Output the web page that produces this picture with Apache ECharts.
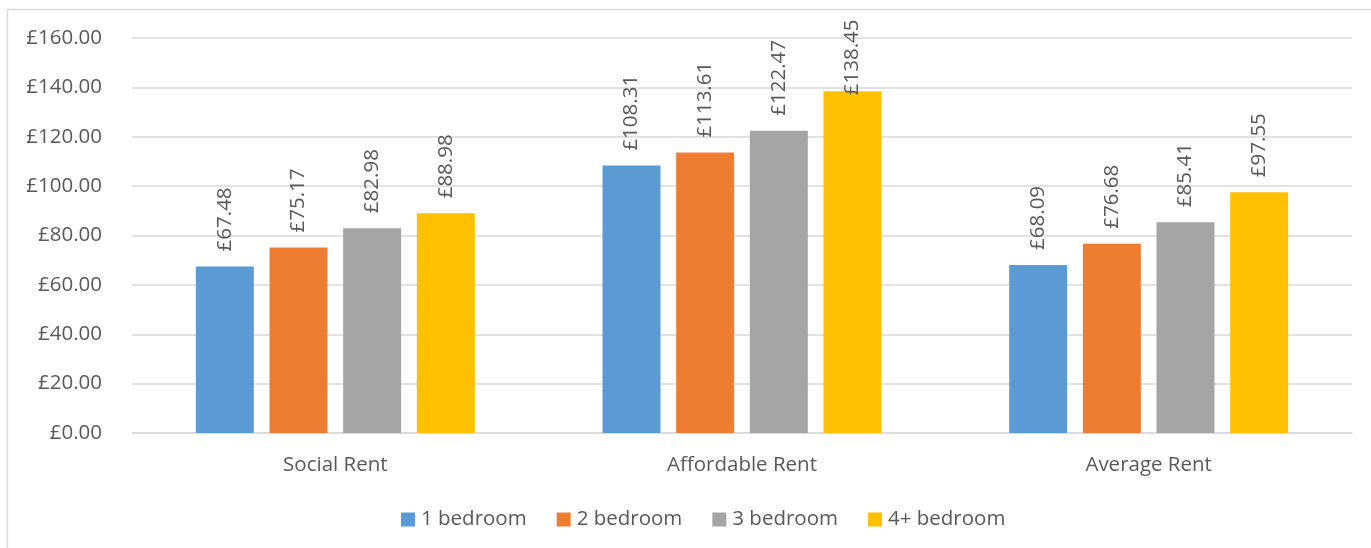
<!DOCTYPE html>
<html>
<head>
<meta charset="utf-8">
<script src="https://cdn.jsdelivr.net/npm/echarts@6/dist/echarts.min.js"></script>
<style>
html,body{margin:0;padding:0;background:#fff;}
#chart{width:1371px;height:548px;}
</style>
</head>
<body>
<div id="chart"></div>
<script>
const categories = ['Social Rent', 'Affordable Rent', 'Average Rent'];
const seriesNames = ['1 bedroom', '2 bedroom', '3 bedroom', '4+ bedroom'];
const oneBedroom = [67.48, 108.31, 68.09];
const twoBedroom = [75.17, 113.61, 76.68];
const threeBedroom = [82.98, 122.47, 85.41];
const fourBedroom = [88.98, 138.45, 97.55];
const yTicks = { min: 0, max: 160, interval: 20 };

const colors = ['#5B9BD5', '#ED7D31', '#A5A5A5', '#FFC000'];
const FONT = 'Open Sans';
const FS = 20.5;
const TXT = '#595959';

const allValues = [oneBedroom, twoBedroom, threeBedroom, fourBedroom];

function buildData(vals) {
  return vals.map(v => {
    // labels near the top of the plot are pulled down to fit, as in the reference
    if (v > 130) return { value: v, label: { distance: -4 } };
    return v;
  });
}

const chart = echarts.init(document.getElementById('chart'), null, { renderer: 'canvas' });
chart.setOption({
  backgroundColor: '#fff',
  animation: false,
  color: colors,
  textStyle: { fontFamily: FONT, color: TXT },
  graphic: [{
    type: 'rect',
    shape: { x: 7.5, y: 9.5, width: 1400, height: 600 },
    style: { fill: 'none', stroke: '#d9d9d9', lineWidth: 1.5 },
    silent: true
  }],
  grid: { left: 132, right: 19, top: 38, bottom: 115, containLabel: false },
  legend: {
    left: 396, top: 504,
    itemWidth: 14, itemHeight: 14, itemGap: 30,
    icon: 'rect',
    textStyle: { fontFamily: FONT, fontSize: FS, color: TXT, padding: [0, 0, 0, 1] },
    data: seriesNames
  },
  xAxis: {
    type: 'category',
    data: categories,
    axisLine: { lineStyle: { color: '#d9d9d9', width: 1.5 } },
    axisTick: { show: false },
    axisLabel: { fontFamily: FONT, fontSize: FS, color: TXT, margin: 22 }
  },
  yAxis: {
    type: 'value',
    min: yTicks.min, max: yTicks.max, interval: yTicks.interval,
    axisLine: { show: false },
    axisTick: { show: false },
    splitLine: { lineStyle: { color: '#d9d9d9', width: 1.5 } },
    axisLabel: {
      fontFamily: FONT, fontSize: FS, color: TXT, margin: 30,
      formatter: v => '£' + v.toFixed(2)
    }
  },
  series: allValues.map((vals, i) => ({
    name: seriesNames[i],
    type: 'bar',
    barWidth: 58,
    barGap: '27%',
    data: buildData(vals),
    itemStyle: { color: colors[i] },
    label: {
      show: true,
      position: 'top',
      rotate: 90,
      align: 'left',
      verticalAlign: 'middle',
      distance: 15,
      fontFamily: FONT, fontSize: FS, color: TXT,
      formatter: p => '£' + Number(p.value).toFixed(2)
    }
  }))
});
</script>
</body>
</html>
